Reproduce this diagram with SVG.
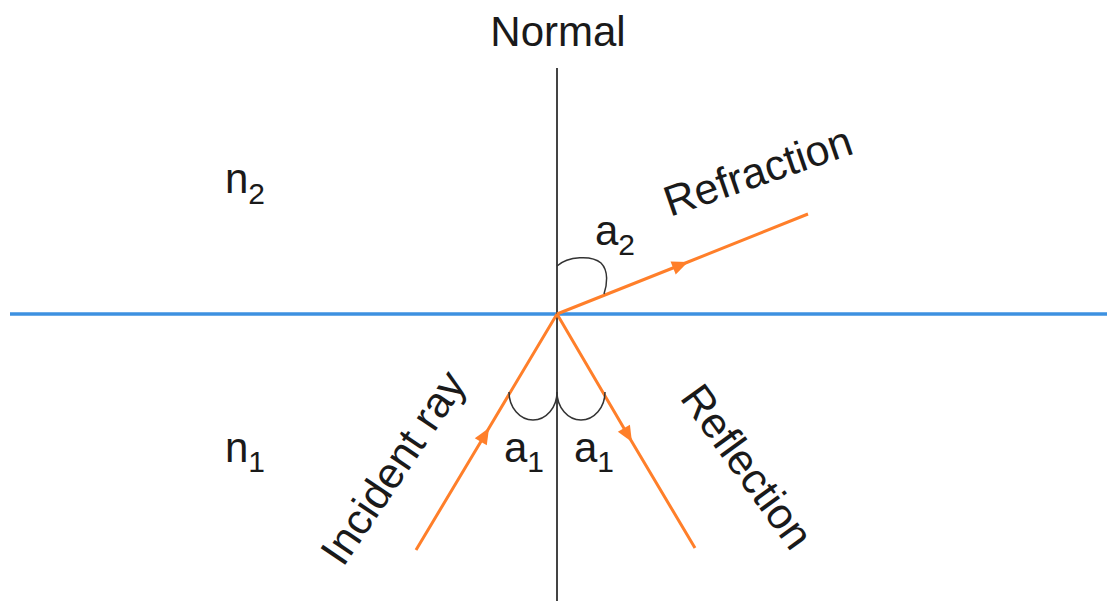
<svg xmlns="http://www.w3.org/2000/svg" width="1107" height="601" viewBox="0 0 1107 601">
<style>
text{font-family:"Liberation Sans",Arial,sans-serif;fill:#1a1a1a;font-size:42px}
.sub{font-size:30px}
.big{font-size:43px}
.ray{stroke:#ff7f2a;stroke-width:3;fill:none;marker-mid:url(#arr)}
.arc{stroke:#333;stroke-width:1.5;fill:none}
</style>
<defs>
<marker id="arr" markerUnits="userSpaceOnUse" markerWidth="18" markerHeight="16" refX="16" refY="7" orient="auto" overflow="visible">
<path d="M0,0 L16,7 L0,14 z" fill="#ff7f2a"/>
</marker>
</defs>
<rect width="1107" height="601" fill="#fff"/>
<g id="connectors">
<line id="surface" x1="10" y1="314" x2="1107" y2="314" stroke="#3d91e0" stroke-width="3.5"/>
<line id="normal-line" x1="557" y1="68" x2="557" y2="601" stroke="#444" stroke-width="2"/>
<path id="incident" class="ray" d="M416,550 L489,428 L557,314"/>
<path id="reflection" class="ray" d="M557,314 L632,442 L695,548"/>
<path id="refraction" class="ray" d="M557,314 L688,262 L808,214"/>
<path class="arc" d="M557,266 C568,256 592,255 601,263 C609,271 607,285 604,294"/>
<path class="arc" d="M509,392 A24 28 0 0 0 557,392"/>
<path class="arc" d="M557,392 A24 28 0 0 0 605,392"/>
</g>
<g id="label-normal"><text x="558" y="46" text-anchor="middle">Normal</text></g>
<g id="label-n2"><text x="225" y="193">n<tspan class="sub" dy="11">2</tspan></text></g>
<g id="label-n1"><text x="225" y="462">n<tspan class="sub" dy="10">1</tspan></text></g>
<g id="label-a2"><text x="595" y="245">a<tspan class="sub" dy="10">2</tspan></text></g>
<g id="label-a1-left"><text x="504" y="462">a<tspan class="sub" dy="10">1</tspan></text></g>
<g id="label-a1-right"><text x="574" y="462">a<tspan class="sub" dy="10">1</tspan></text></g>
<g id="label-refraction"><text class="big" transform="translate(670,217) rotate(-19)">Refraction</text></g>
<g id="label-incident"><text class="big" transform="translate(343,568) rotate(-56)">Incident ray</text></g>
<g id="label-reflection"><text class="big" transform="translate(679,398) rotate(54)">Reflection</text></g>
</svg>
